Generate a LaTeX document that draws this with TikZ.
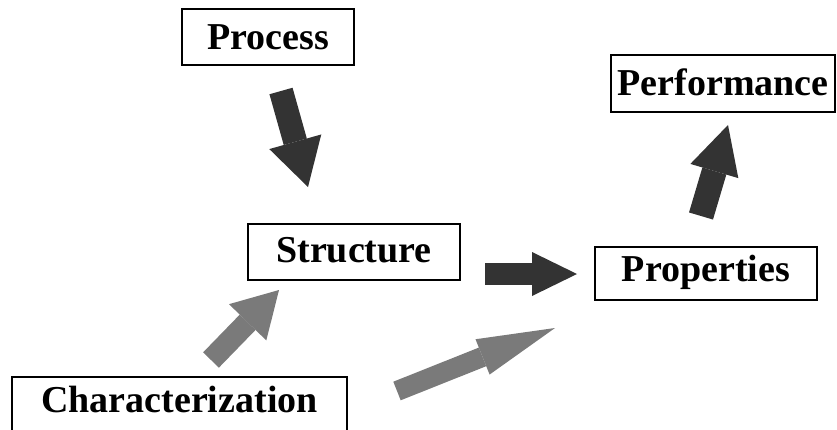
\documentclass[tikz,border=0pt]{standalone}
\usepackage{fontspec}
\setmainfont{Liberation Serif}
\usepackage{tikz}
\usetikzlibrary{arrows.meta}

\begin{document}
\begin{tikzpicture}[
  x=1pt,y=1pt,
  box/.style={draw,line width=2.2pt,inner sep=0pt,align=center,
    font=\bfseries\fontsize{38}{40}\selectfont,text height=25pt,text depth=0pt},
  fat/.style n args={3}{line width=#1,-{Triangle[width=#2,length=#3,line width=0pt]}},
  dark/.style={draw=black!80},
  light/.style={draw=black!52}
]
\useasboundingbox (0,0) rectangle (837,429);
\node[box,minimum width=172pt,minimum height=56pt] (proc) at (268,392) {Process};
\node[box,minimum width=212pt,minimum height=56pt,text depth=4pt] (struct) at (354,177) {Structure};
\node[box,minimum width=222pt,minimum height=53pt,text depth=10pt] (prop) at (706,155.5) {Properties};
\node[box,minimum width=224pt,minimum height=57pt] (perf) at (723,345.5) {Performance};
\node[box,minimum width=335pt,minimum height=58pt,text depth=12pt] (char) at (179.5,23) {Characterization};
% arrow ends between the boxes
\coordinate (procOut) at (281,338);  \coordinate (structIn) at (308,242);
\coordinate (structOut) at (485,155); \coordinate (propIn) at (577,155);
\coordinate (charOut) at (211,69);   \coordinate (charIn) at (279,139);
\coordinate (charOut2) at (397,38);  \coordinate (propIn2) at (555,101);
\coordinate (propOut) at (701,213);  \coordinate (perfIn) at (728,304);
\draw[dark,fat={24pt}{54pt}{47pt}] (procOut) -- (structIn);
\draw[dark,fat={22pt}{44pt}{45pt}] (structOut) -- (propIn);
\draw[dark,fat={25pt}{50pt}{48pt}] (propOut) -- (perfIn);
\draw[light,fat={22pt}{52pt}{45pt}] (charOut) -- (charIn);
\draw[light,fat={20pt}{38pt}{78pt}] (charOut2) -- (propIn2);
\end{tikzpicture}
\end{document}
